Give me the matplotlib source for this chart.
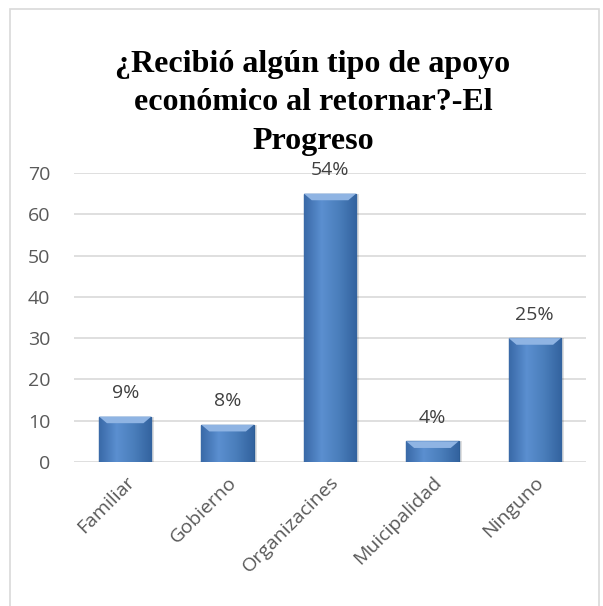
import numpy as np
import matplotlib
matplotlib.use("Agg")
import matplotlib.pyplot as plt
from matplotlib.patches import Rectangle

plt.rcParams['font.serif'] = ['Liberation Serif', 'Times New Roman', 'DejaVu Serif']

categories = ["Familiar", "Gobierno", "Organizacines", "Muicipalidad", "Ninguno"]
values = [11, 9, 65, 5, 30]
pct_labels = ["9%", "8%", "54%", "4%", "25%"]
title = "¿Recibió algún tipo de apoyo\neconómico al retornar?-El\nProgreso"

W, H = 603, 606
fig = plt.figure(figsize=(W / 100, H / 100), dpi=100)

# chart frame
fig.patches.append(Rectangle((10 / W, -0.01), 589 / W, 1 - 9 / H + 0.01, transform=fig.transFigure,
                             fill=False, edgecolor="#d9d9d9", linewidth=1.2))

# plot area: x 74..586 px, y 0 at 462 px, 70 at 173 px
ax = fig.add_axes([74 / W, 1 - 462 / H, 512 / W, 289 / H])
x = np.arange(len(categories))
ax.set_yticks(range(0, 71, 10))
ax.yaxis.grid(True, color="#d9d9d9", linewidth=1.2)
ax.set_axisbelow(True)
for s in ax.spines.values():
    s.set_visible(False)
ax.tick_params(length=0)
ax.tick_params(axis="y", pad=17)

# shadow then bars
ax.bar(x + 0.03, values, width=0.51, color="#000000", alpha=0.12, zorder=2)
bars = ax.bar(x, values, width=0.51, color="#4a7ebb", edgecolor="#2c5d96", linewidth=1.0, zorder=3)

# gradient look inside bars
grad = np.linspace(0, 1, 64).reshape(1, -1)
cmap = matplotlib.colors.LinearSegmentedColormap.from_list("g", ["#3a6aa8", "#5b8fd0", "#4a7ebb", "#33639f"])
for b in bars:
    bx, bw, bh = b.get_x(), b.get_width(), b.get_height()
    im = ax.imshow(grad, cmap=cmap, extent=(bx, bx + bw, 0, bh), aspect="auto", zorder=3.5)
    im.set_clip_path(b)
    # top bevel
    d = min(1.6, bh * 0.35)
    ax.fill([bx, bx + bw, bx + bw * 0.85, bx + bw * 0.15], [bh, bh, bh - d, bh - d],
            color="#8fb4e3", zorder=3.7, linewidth=0)
ax.set_xlim(-0.5, len(categories) - 0.5)
ax.set_ylim(0, 70)

for xi, v, lab in zip(x, values, pct_labels):
    ax.annotate(lab, (xi, v), xytext=(0, 17), textcoords="offset points", ha="center", va="center",
                fontsize=14, color="#404040", family="Open Sans", zorder=5)

ax.set_xticks(x)
ax.set_xticklabels(categories, rotation=45, ha="right", rotation_mode="anchor", fontsize=14,
                   color="#595959", family="Open Sans")
ax.tick_params(axis="x", pad=8)
for t in ax.get_yticklabels():
    t.set_fontsize(14)
    t.set_color("#595959")
    t.set_family("Open Sans")
    t.set_horizontalalignment("right")

fig.text(313 / W, 1 - 103 / H, title, ha="center", va="center", fontsize=23, fontweight="bold",
         family="serif", linespacing=1.45)

fig.savefig("out.png", dpi=100, facecolor="white")
